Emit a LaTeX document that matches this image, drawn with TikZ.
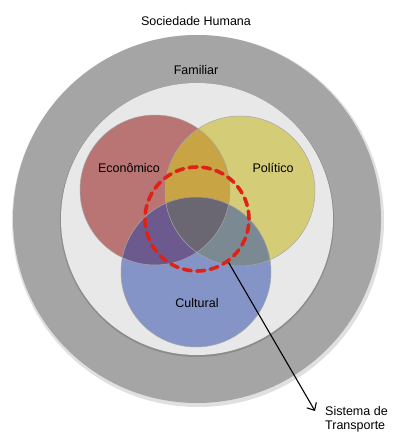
\documentclass[tikz,border=0pt]{standalone}
\usepackage{fontspec}
\setmainfont{Liberation Sans}
\usetikzlibrary{arrows.meta}
\definecolor{outergray}{HTML}{A5A5A5}
\definecolor{innergray}{HTML}{E8E8E8}
\definecolor{econ}{HTML}{B97474}
\definecolor{poli}{HTML}{D5CC78}
\definecolor{cult}{HTML}{8594C7}
\definecolor{ep}{HTML}{C9A445}
\definecolor{ec}{HTML}{6C5A8F}
\definecolor{pc}{HTML}{7B8A92}
\definecolor{epc}{HTML}{6A6672}
\definecolor{dashred}{HTML}{DD2317}
\tikzset{
  lbl/.style={font=\fontsize{12.5}{15}\selectfont, text=black, inner sep=0pt},
  rim/.style={draw=black!35, line width=0.5pt},
}
\begin{document}
\begin{tikzpicture}[x=1pt,y=-1pt]
\clip (0,0) rectangle (392,434);
\fill[white] (0,0) rectangle (392,434);
% outer and inner rings
\fill[black!12] (198,221) circle[radius=186pt];
\fill[outergray] (197,219) circle[radius=184pt];
\fill[black!45] (197,220) circle[radius=137pt];
\fill[innergray] (197,219) circle[radius=136pt];
% Venn circles
\coordinate (ce) at (155,190);
\coordinate (cp) at (240,191);
\coordinate (cc) at (196,272);
\fill[econ] (ce) circle[radius=75pt];
\fill[poli] (cp) circle[radius=75pt];
\fill[cult] (cc) circle[radius=75pt];
\begin{scope}
  \clip (ce) circle[radius=75pt];
  \fill[ep] (cp) circle[radius=75pt];
  \fill[ec] (cc) circle[radius=75pt];
  \clip (cp) circle[radius=75pt];
  \fill[epc] (cc) circle[radius=75pt];
\end{scope}
\begin{scope}
  \clip (cp) circle[radius=75pt];
  \clip (cc) circle[radius=75pt];
  \fill[pc] (ce) ++(-200,-200) rectangle ++(400,400);
  \clip (ce) circle[radius=75pt];
  \fill[epc] (cc) circle[radius=75pt];
\end{scope}
\draw[rim] (ce) circle[radius=75pt];
\draw[rim] (cp) circle[radius=75pt];
\draw[rim] (cc) circle[radius=75pt];
% labels
\node[lbl] (soc) at (196,21) {Sociedade Humana};
\node[lbl] (fam) at (196,70) {Familiar};
\node[lbl] (eco) at (129,168) {Econômico};
\node[lbl] (pol) at (273,168) {Político};
\node[lbl] (cul) at (197,303) {Cultural};
% dashed transport circle
\node[circle, minimum size=104pt, inner sep=0pt, draw=dashred, line width=3.6pt,
      dash pattern=on 8pt off 5.6pt, line cap=round] (st) at (197,219) {};
\node[lbl, anchor=base west] (sis1) at (325,415) {Sistema de};
\node[lbl, anchor=base west] (sis2) at (325,429.5) {Transporte};
\coordinate (tip) at (315,411);
\draw[line width=1.1pt, -{Straight Barb[length=6pt,width=11pt]}] (st.-54) -- (tip);
\end{tikzpicture}
\end{document}
